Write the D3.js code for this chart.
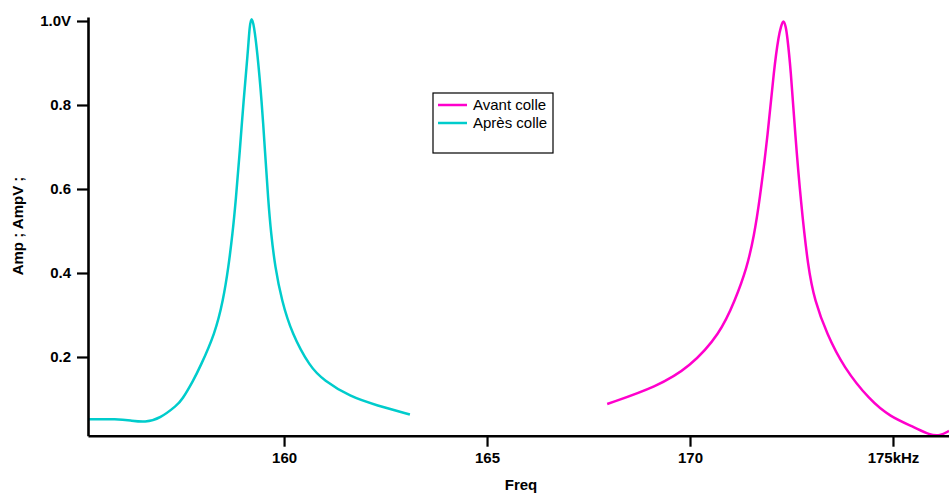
<!DOCTYPE html>
<html><head><meta charset="utf-8">
<script src="https://cdn.jsdelivr.net/npm/d3@7"></script>
<style>
html,body{margin:0;padding:0;background:#fff;}
svg{display:block;font-family:"Liberation Sans",Arial,sans-serif;}
</style></head>
<body><svg id="c" width="949" height="494"></svg>
<script>
// Series: "Après colle" (cyan)
const apresFreq = [155.17,155.89,156.21,156.58,156.95,157.36,157.48,157.77,157.93,158.30,158.50,158.63,158.73,158.81,158.91,159.00,159.11,159.15,159.20,159.26,159.34,159.45,159.53,159.61,159.68,159.78,159.94,160.19,160.64,160.97,161.63,162.28,163.10];
const apresAmp  = [0.052,0.052,0.049,0.044,0.054,0.085,0.097,0.145,0.176,0.256,0.335,0.414,0.493,0.572,0.690,0.809,0.927,0.988,1.012,0.988,0.927,0.809,0.690,0.572,0.493,0.414,0.335,0.256,0.176,0.145,0.105,0.085,0.063];
// Series: "Avant colle" (magenta)
const avantFreq = [167.96,169.18,170.00,170.74,171.11,171.40,171.58,171.71,171.92,172.07,172.19,172.24,172.30,172.36,172.39,172.48,172.59,172.73,172.91,173.07,173.37,173.78,174.43,174.93,175.50,175.91,176.16,176.38];
const avantAmp  = [0.088,0.129,0.176,0.255,0.335,0.411,0.490,0.569,0.731,0.888,0.968,0.986,1.005,0.986,0.968,0.888,0.731,0.569,0.411,0.335,0.255,0.176,0.097,0.058,0.034,0.014,0.012,0.024];
const xTicks = [160,165,170,175];
const xTickLabels = ["160","165","170","175kHz"];
const yTicks = [0.2,0.4,0.6,0.8,1.0];
const yTickLabels = ["0.2","0.4","0.6","0.8","1.0V"];
const seriesNames = ["Avant colle","Après colle"];
const seriesColors = ["#ff00cc","#00cccc"];

const svg = d3.select("#c");
const x = d3.scaleLinear().domain([155.17,176.38]).range([88,949]);
const y = d3.scaleLinear().domain([0.0126,1.0095]).range([435.7,17]);

const line = d3.line().x(d=>x(d[0])).y(d=>y(d[1])).curve(d3.curveBasis);
const avant = avantFreq.map((f,i)=>[f,avantAmp[i]]);
const apres = apresFreq.map((f,i)=>[f,apresAmp[i]]);

svg.append("path").datum(apres).attr("d",line).attr("fill","none").attr("stroke",seriesColors[1]).attr("stroke-width",2.5);
svg.append("path").datum(avant).attr("d",line).attr("fill","none").attr("stroke",seriesColors[0]).attr("stroke-width",2.5);

const xAxis = d3.axisBottom(x).tickValues(xTicks).tickSize(11).tickSizeOuter(0).tickPadding(6)
  .tickFormat((d,i)=>xTickLabels[i]);
const gx = svg.append("g").attr("transform","translate(0,435.7)").call(xAxis);
const yAxis = d3.axisLeft(y).tickValues(yTicks).tickSize(11).tickSizeOuter(0).tickPadding(6)
  .tickFormat((d,i)=>yTickLabels[i]);
const gy = svg.append("g").attr("transform","translate(88,0)").call(yAxis);
[gx,gy].forEach(g=>{
  g.select(".domain").attr("stroke","#000").attr("stroke-width",2.6);
  g.selectAll(".tick line").attr("stroke","#000").attr("stroke-width",2.2);
  g.selectAll(".tick text").attr("fill","#000").attr("font-size",15).attr("font-weight","bold")
   .attr("font-family","'Liberation Sans',Arial,sans-serif");
});

svg.append("text").attr("x",521).attr("y",490).attr("text-anchor","middle")
  .attr("font-size",15).attr("font-weight","bold").text("Freq");
svg.append("text").attr("transform","translate(23,226) rotate(-90)").attr("text-anchor","middle")
  .attr("font-size",15).attr("font-weight","bold").text("Amp ; AmpV ;");

// legend
const lg = svg.append("g");
lg.append("rect").attr("x",433).attr("y",93).attr("width",120).attr("height",60)
  .attr("fill","#fff").attr("stroke","#000").attr("stroke-width",1.2);
seriesNames.forEach((n,i)=>{
  const yy = 105 + i*18;
  lg.append("line").attr("x1",438).attr("x2",467).attr("y1",yy).attr("y2",yy)
    .attr("stroke",seriesColors[i]).attr("stroke-width",2.5);
  lg.append("text").attr("x",473).attr("y",yy+5).attr("font-size",15).text(n);
});
</script></body></html>
